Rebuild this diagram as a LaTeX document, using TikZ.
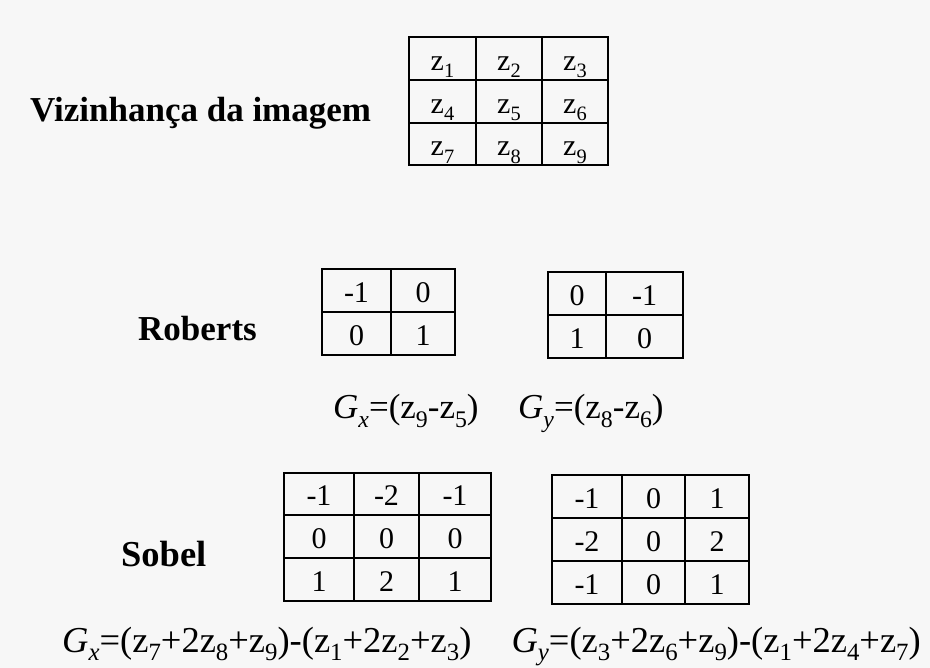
\documentclass[tikz,border=0pt]{standalone}
\usepackage{fontspec}
\setmainfont{Liberation Serif}
\definecolor{bgc}{RGB}{247,247,247}
\newcommand\sbx[1]{\raisebox{-0.24em}{\scalebox{0.68}{#1}}}
\begin{document}
\begin{tikzpicture}[x=1pt,y=-1pt,
  gridline/.style={line width=2.6pt, black},
  cell/.style={font=\fontsize{30}{30}\selectfont, inner sep=0pt, anchor=base},
  lbl/.style={font=\fontsize{35}{35}\selectfont\bfseries, inner sep=0pt, anchor=base west},
  frm/.style={font=\fontsize{35}{35}\selectfont, inner sep=0pt, anchor=base west},
  frmb/.style={font=\fontsize{36.5}{36.5}\selectfont, inner sep=0pt}]
\fill[bgc] (0,0) rectangle (930,668);
\useasboundingbox (0,0) rectangle (930,668);

% ---------- top neighbourhood grid ----------
\node[lbl] (viz) at (30,122) {Vizinhança da imagem};
\draw[gridline] (409,37) rectangle (608,165);
\draw[gridline] (476,37) -- (476,165) (542,37) -- (542,165)
                (409,80) -- (608,80) (409,123) -- (608,123);
\node[cell] (z1) at (442.5,70.5) {z\sbx{1}};
\node[cell] (z2) at (509,70.5) {z\sbx{2}};
\node[cell] (z3) at (575,70.5) {z\sbx{3}};
\node[cell] (z4) at (442.5,113.5) {z\sbx{4}};
\node[cell] (z5) at (509,113.5) {z\sbx{5}};
\node[cell] (z6) at (575,113.5) {z\sbx{6}};
\node[cell] (z7) at (442.5,156) {z\sbx{7}};
\node[cell] (z8) at (509,156) {z\sbx{8}};
\node[cell] (z9) at (575,156) {z\sbx{9}};

% ---------- Roberts ----------
\node[lbl] (rob) at (138,341) {Roberts};
\draw[gridline] (322,269) rectangle (455,355);
\draw[gridline] (391,269) -- (391,355) (322,312) -- (455,312);
\node[cell] (ra11) at (356.5,302.5) {-1};
\node[cell] (ra12) at (423,302.5) {0};
\node[cell] (ra21) at (356.5,345.5) {0};
\node[cell] (ra22) at (423,345.5) {1};

\draw[gridline] (548,272) rectangle (683,358);
\draw[gridline] (606,272) -- (606,358) (548,315) -- (683,315);
\node[cell] (rb11) at (577,305.5) {0};
\node[cell] (rb12) at (644.5,305.5) {-1};
\node[cell] (rb21) at (577,348.5) {1};
\node[cell] (rb22) at (644.5,348.5) {0};

\node[frm] (rgx) at (333,419) {\textit{G}\sbx{\textit{x}}=(z\sbx{9}-z\sbx{5})};
\node[frm] (rgy) at (518,419) {\textit{G}\sbx{\textit{y}}=(z\sbx{8}-z\sbx{6})};

% ---------- Sobel ----------
\node[lbl,font=\fontsize{36.5}{36.5}\selectfont\bfseries] (sob) at (121,566) {Sobel};
\draw[gridline] (284,473) rectangle (491,601);
\draw[gridline] (354,473) -- (354,601) (419,473) -- (419,601)
                (284,515) -- (491,515) (284,558) -- (491,558);
\node[cell] (sa11) at (319,506) {-1};
\node[cell] (sa12) at (386.5,506) {-2};
\node[cell] (sa13) at (455,506) {-1};
\node[cell] (sa21) at (319,548.5) {0};
\node[cell] (sa22) at (386.5,548.5) {0};
\node[cell] (sa23) at (455,548.5) {0};
\node[cell] (sa31) at (319,591.5) {1};
\node[cell] (sa32) at (386.5,591.5) {2};
\node[cell] (sa33) at (455,591.5) {1};

\draw[gridline] (552,475) rectangle (749,604);
\draw[gridline] (622,475) -- (622,604) (685,475) -- (685,604)
                (552,518) -- (749,518) (552,561) -- (749,561);
\node[cell] (sb11) at (587,508.5) {-1};
\node[cell] (sb12) at (653.5,508.5) {0};
\node[cell] (sb13) at (717,508.5) {1};
\node[cell] (sb21) at (587,551.5) {-2};
\node[cell] (sb22) at (653.5,551.5) {0};
\node[cell] (sb23) at (717,551.5) {2};
\node[cell] (sb31) at (587,594.5) {-1};
\node[cell] (sb32) at (653.5,594.5) {0};
\node[cell] (sb33) at (717,594.5) {1};

\node[frmb,anchor=base west] (sgx) at (62,652) {\textit{G}\sbx{\textit{x}}=(z\sbx{7}+2z\sbx{8}+z\sbx{9})-(z\sbx{1}+2z\sbx{2}+z\sbx{3})};
\node[frmb,anchor=base east] (sgy) at (921,652) {\textit{G}\sbx{\textit{y}}=(z\sbx{3}+2z\sbx{6}+z\sbx{9})-(z\sbx{1}+2z\sbx{4}+z\sbx{7})};
\end{tikzpicture}
\end{document}
